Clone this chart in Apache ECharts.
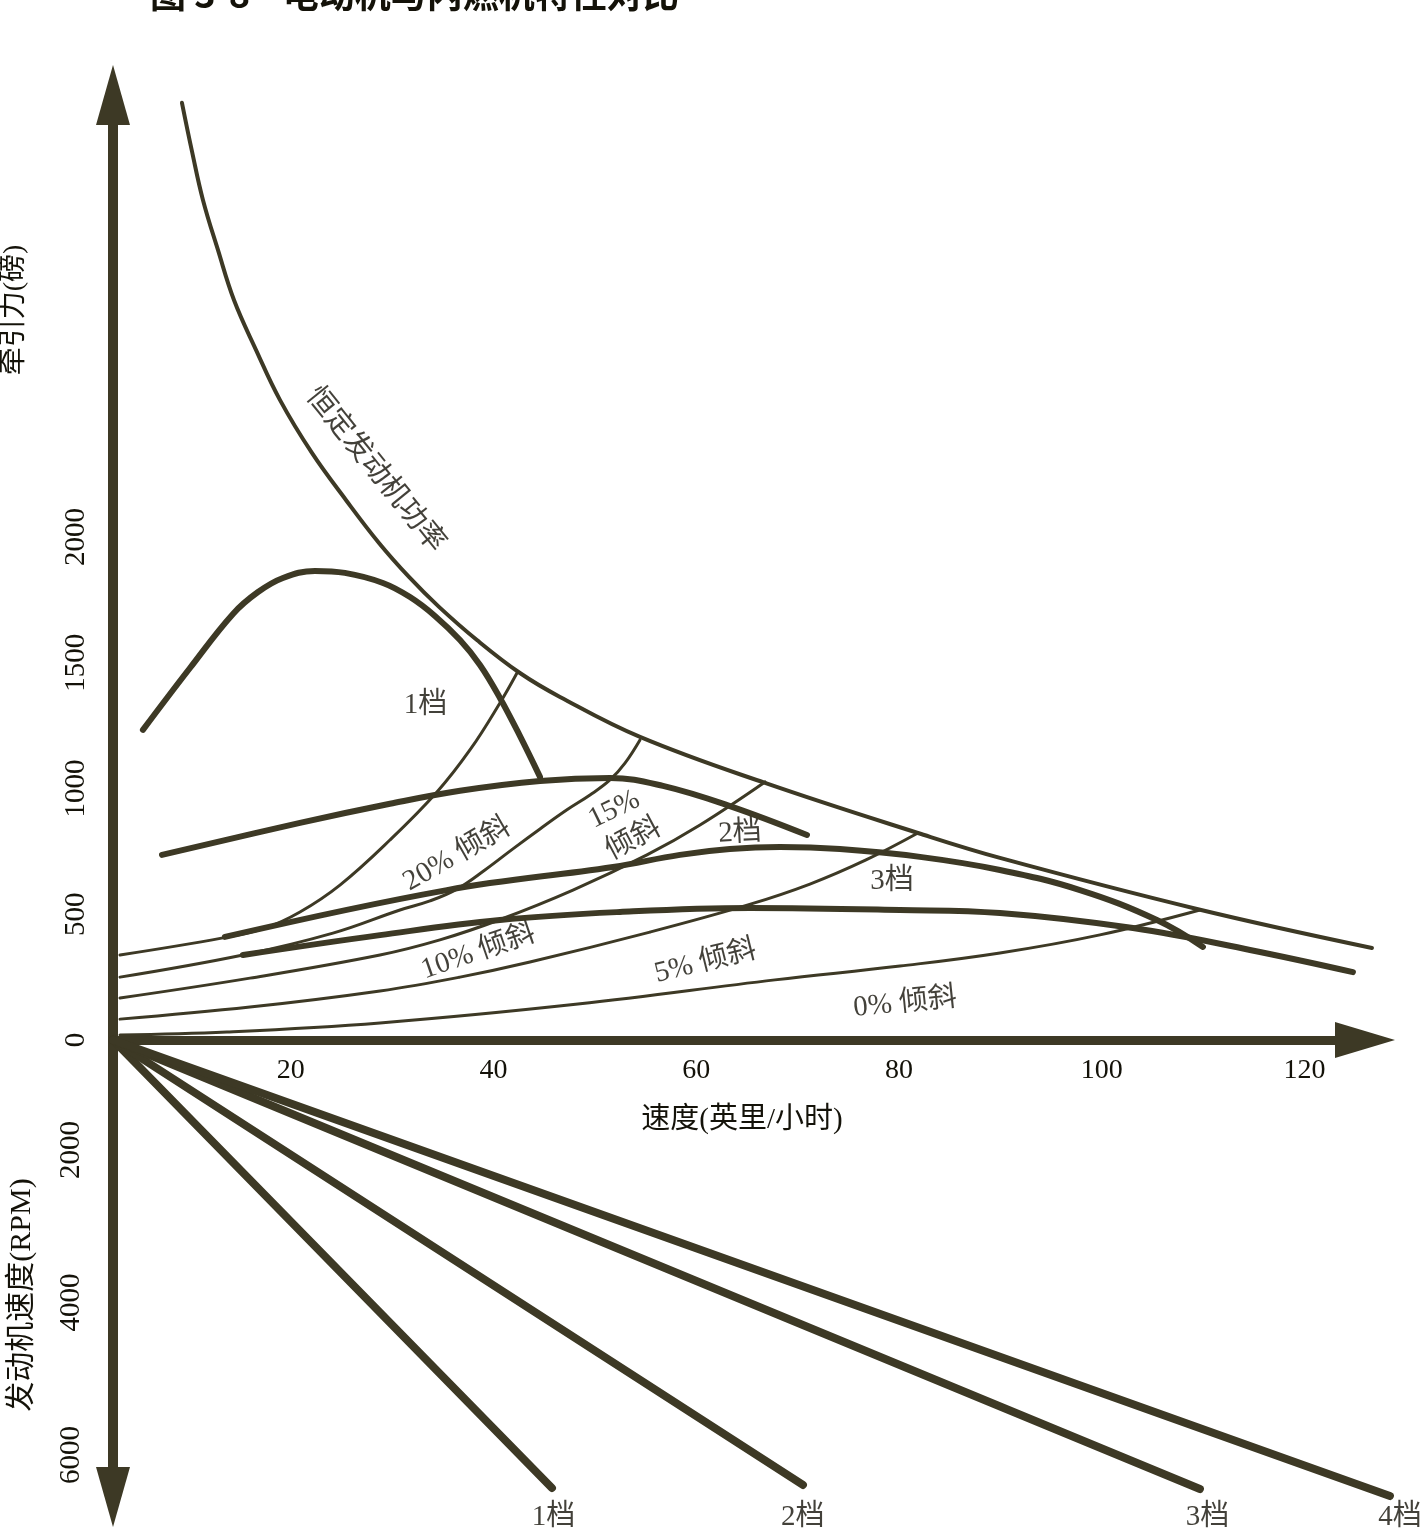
<!DOCTYPE html>
<html><head><meta charset="utf-8">
<script src="https://cdn.jsdelivr.net/npm/echarts@6/dist/echarts.min.js"></script>
<style>html,body{margin:0;padding:0;background:#fff}#c{width:1424px;height:1531px}</style>
</head><body><div id="c"></div>
<script>
// ---- tick labels ----
const speedTicks = [20, 40, 60, 80, 100, 120];
const forceTicks = [0, 500, 1000, 1500, 2000];
const rpmTicks = [2000, 4000, 6000];

// ---- axis ranges (as drawn in the figure) ----
const speedMin = 2.47, speedAxisMax = 125.97, speedPlotMax = 131.76;
const forceMin = 0, forceMax = 3757;
const rpmMin = 557, rpmMax = 6551;

// ---- traction force curves [speed mph, force lb] ----
const constantPower = [[9.27,3726],[10.26,3533],[11.34,3340],[12.82,3141],[14.40,2942],[16.57,2744],[18.93,2545],[22.09,2334],[25.44,2147],[28.70,1976],[31.66,1841],[34.62,1722],[38.36,1590],[42.60,1459],[46.55,1364],[54.44,1205],[66.77,1022],[81.85,823],[89.94,724],[109.37,521],[126.63,366]];
const gear1 = [[5.42,1233],[10.06,1479],[14.30,1694],[16.77,1781],[19.23,1837],[22.39,1865],[25.34,1857],[29.09,1817],[31.76,1761],[34.22,1686],[36.69,1590],[38.66,1491],[40.63,1360],[42.60,1209],[44.58,1046]];
const gear2 = [[7.30,736],[20.91,863],[29.78,939],[36.69,991],[44.58,1030],[51.48,1042],[56.71,1010],[63.31,930],[70.91,815]];
const gear3 = [[13.51,410],[35.40,596],[51.78,688],[58.38,736],[63.31,759],[68.24,767],[74.16,759],[82.05,728],[89.94,676],[97.83,596],[105.42,477],[109.96,370]];
const gear4 = [[15.29,338],[28.80,417],[40.63,477],[52.47,509],[65.29,525],[80.08,517],[89.94,505],[103.06,445],[114.60,358],[124.75,270]];
const slope20 = [[3.16,338],[13.31,406],[17.46,445],[20.91,509],[24.85,616],[29.78,795],[34.42,986],[37.67,1153],[40.63,1340],[42.31,1459]];
const slope15 = [[3.16,250],[15.29,338],[24.16,425],[30.77,517],[33.73,553],[36.39,600],[39.15,676],[41.91,760],[44.58,839],[47.24,915],[49.51,974],[51.48,1034],[52.96,1101],[54.44,1193]];
const slope10 = [[3.16,167],[15.98,246],[28.80,338],[34.71,398],[40.53,477],[47.83,596],[55.13,736],[60.36,855],[66.77,1026]];
const slope5 = [[3.16,83],[15.98,131],[28.80,195],[36.69,250],[43.59,310],[55.42,429],[65.09,537],[71.20,620],[76.73,716],[81.85,823]];
const slope0 = [[3.16,20],[13.71,32],[28.80,68],[48.32,143],[67.75,239],[80.08,294],[89.94,346],[99.80,418],[109.66,517]];

// ---- engine speed lines [speed mph, rpm] (from origin) ----
const rpmGear1 = [[speedMin, rpmMin], [45.76, 6433]];
const rpmGear2 = [[speedMin, rpmMin], [70.51, 6393]];
const rpmGear3 = [[speedMin, rpmMin], [109.66, 6446]];
const rpmGear4 = [[speedMin, rpmMin], [128.40, 6538]];

// ---- annotation texts [speed, force, text, rotate] ----
const topNotes = [
  [28.3, 2266, '恒定发动机功率', -51],
  [33.3, 1332, '1档', 0],
  [36.4, 736, '20% 倾斜', 30],
  [51.9, 916, '15%', 26],
  [53.8, 797, '倾斜', 28],
  [64.3, 823, '2档', 3],
  [79.3, 629, '3档', 0],
  [38.5, 350, '10% 倾斜', 19],
  [60.9, 310, '5% 倾斜', 14],
  [80.6, 147, '0% 倾斜', 6]
];
const bottomNotes = [
  [45.9, 6813, '1档'],
  [70.5, 6813, '2档'],
  [110.4, 6813, '3档'],
  [129.4, 6813, '4档']
];

const INK = '#3d3925';
const TXT = '#141209';
const FONT = "'Liberation Serif','Noto Sans CJK SC',serif";

function curve(data, width, xi, yi) {
  return {
    type: 'line', data: data, xAxisIndex: xi, yAxisIndex: yi,
    smooth: 0.4, showSymbol: false, symbol: 'none', clip: false, silent: true,
    lineStyle: { color: INK, width: width, cap: 'round', join: 'round' }
  };
}
const upperCurve = (d, w) => curve(d, w, 2, 2);
const lowerLine = (d, w) => curve(d, w, 1, 1);

const chart = echarts.init(document.getElementById('c'), null, { renderer: 'canvas' });
chart.setOption({
  backgroundColor: '#ffffff',
  animation: false,
  title: {
    text: '图 3-8    电动机与内燃机特性对比',
    left: 145, top: -29,
    textStyle: { fontSize: 36, fontWeight: 'bold', color: TXT, fontFamily: "'Noto Sans CJK SC',sans-serif" }
  },
  grid: [
    { left: 113, right: 59, top: 95, bottom: 491, outerBoundsMode: 'none' },
    { left: 113, right: 0, top: 1040, bottom: 34, outerBoundsMode: 'none' },
    { left: 113, right: 0, top: 95, bottom: 491, outerBoundsMode: 'none' }
  ],
  xAxis: [
    {
      type: 'value', gridIndex: 0, min: speedMin, max: speedAxisMax,
      splitLine: { show: false }, axisTick: { show: false },
      axisLine: { show: true, symbol: ['none', 'triangle'], symbolSize: [36, 60], lineStyle: { color: INK, width: 9 } },
      axisLabel: { customValues: speedTicks, formatter: v => String(v), margin: 17, fontSize: 28, color: TXT, fontFamily: FONT }
    },
    { type: 'value', gridIndex: 1, min: speedMin, max: speedPlotMax, show: false },
    { type: 'value', gridIndex: 2, min: speedMin, max: speedPlotMax, show: false }
  ],
  yAxis: [
    {
      type: 'value', gridIndex: 0, min: forceMin, max: forceMax,
      splitLine: { show: false }, axisTick: { show: false },
      axisLine: { show: true, onZero: false, symbol: ['none', 'triangle'], symbolSize: [34, 60], lineStyle: { color: INK, width: 10 } },
      axisLabel: { customValues: forceTicks, formatter: v => String(v), rotate: 90, margin: 22, fontSize: 29, color: TXT, fontFamily: FONT }
    },
    {
      type: 'value', gridIndex: 1, min: rpmMin, max: rpmMax, inverse: true,
      splitLine: { show: false }, axisTick: { show: false },
      axisLine: { show: true, onZero: false, symbol: ['triangle', 'none'], symbolSize: [34, 60], lineStyle: { color: INK, width: 10 } },
      axisLabel: { customValues: rpmTicks, formatter: v => String(v), rotate: 90, margin: 27, fontSize: 29, color: TXT, fontFamily: FONT }
    },
    { type: 'value', gridIndex: 2, min: forceMin, max: forceMax, show: false }
  ],
  graphic: [
    { type: 'text', x: 15, y: 310, rotation: Math.PI / 2, style: { text: '牵引力(磅)', font: "28px " + FONT, fill: TXT, textAlign: 'center', textVerticalAlign: 'middle' } },
    { type: 'text', x: 742, y: 1120, style: { text: '速度(英里/小时)', font: "29px " + FONT, fill: TXT, textAlign: 'center', textVerticalAlign: 'middle' } },
    { type: 'text', x: 22, y: 1295, rotation: Math.PI / 2, style: { text: '发动机速度(RPM)', font: "30px " + FONT, fill: TXT, textAlign: 'center', textVerticalAlign: 'middle' } }
  ],
  series: [
    upperCurve(constantPower, 4),
    upperCurve(gear1, 6), upperCurve(gear2, 6), upperCurve(gear3, 6), upperCurve(gear4, 6),
    upperCurve(slope20, 3), upperCurve(slope15, 3), upperCurve(slope10, 3), upperCurve(slope5, 3), upperCurve(slope0, 3),
    lowerLine(rpmGear1, 8), lowerLine(rpmGear2, 8), lowerLine(rpmGear3, 8), lowerLine(rpmGear4, 8),
    {
      type: 'scatter', xAxisIndex: 2, yAxisIndex: 2, clip: false, silent: true,
      symbolSize: 1, itemStyle: { color: 'rgba(0,0,0,0)' },
      data: topNotes.map(n => ({ value: [n[0], n[1]], name: n[2], label: { rotate: n[3] } })),
      label: { show: true, position: 'inside', formatter: p => p.name, fontSize: 29, color: TXT, fontFamily: FONT }
    },
    {
      type: 'scatter', xAxisIndex: 1, yAxisIndex: 1, clip: false, silent: true,
      symbolSize: 1, itemStyle: { color: 'rgba(0,0,0,0)' },
      data: bottomNotes.map(n => ({ value: [n[0], n[1]], name: n[2] })),
      label: { show: true, position: 'inside', formatter: p => p.name, fontSize: 29, color: TXT, fontFamily: FONT }
    }
  ]
});
</script></body></html>
